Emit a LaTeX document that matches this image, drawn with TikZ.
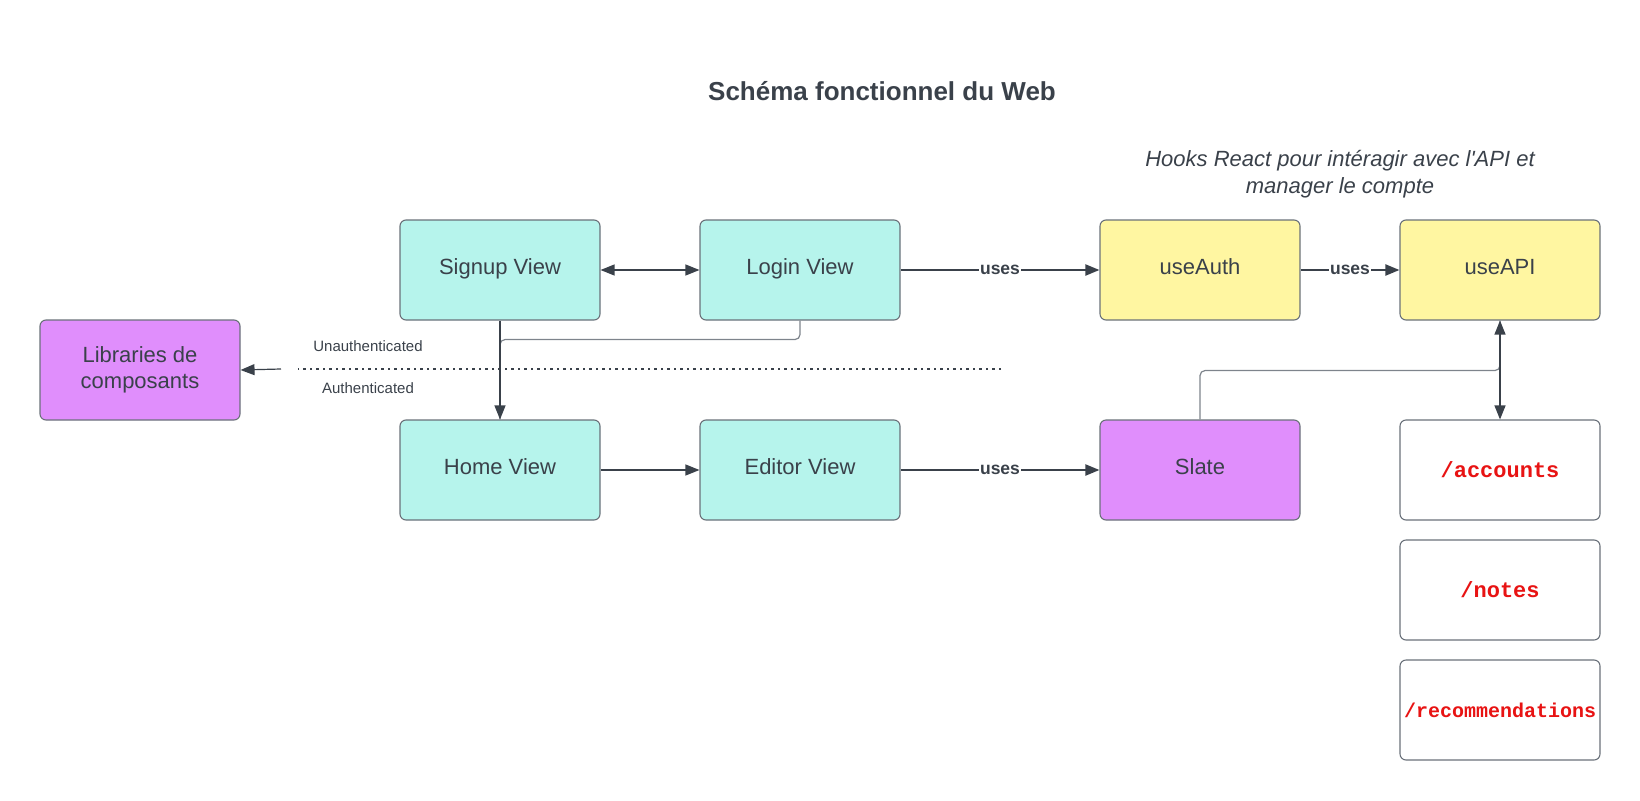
\documentclass[tikz,border=0pt]{standalone}
\usepackage{fontspec}
\setmainfont{Liberation Sans}
\newfontfamily\monofont{Liberation Mono}
\usetikzlibrary{arrows.meta}
\definecolor{tealbox}{HTML}{B6F4EC}
\definecolor{yellowbox}{HTML}{FFF6A1}
\definecolor{purplebox}{HTML}{E08EFC}
\definecolor{textdark}{HTML}{3A414A}
\definecolor{bordergray}{HTML}{6A717A}
\definecolor{linegray}{HTML}{7E848C}
\definecolor{redtext}{HTML}{E81313}
\begin{document}
\begin{tikzpicture}[x=1pt,y=-1pt,
  box/.style={draw=bordergray, line width=1.1pt, rounded corners=6pt,
    minimum width=200pt, minimum height=100pt, inner sep=0pt,
    text=textdark, font=\fontsize{22}{26}\selectfont, align=center},
  oneline/.style={text height=15pt, text depth=6pt},
  tealnode/.style={box, oneline, fill=tealbox},
  yellownode/.style={box, oneline, fill=yellowbox},
  purplenode/.style={box, oneline, fill=purplebox},
  endpoint/.style={box, fill=white, text=redtext, font=\monofont\bfseries\fontsize{22}{26}\selectfont},
  conn/.style={draw=textdark, line width=1.2pt, -{Triangle[length=14pt,width=11pt]}},
  biconn/.style={draw=textdark, line width=1.2pt, {Triangle[length=14pt,width=11pt]}-{Triangle[length=14pt,width=11pt]}},
  useconn/.style={draw=textdark, line width=2pt, -{Triangle[length=14pt,width=11pt]}},
  elbow/.style={draw=linegray, line width=1.2pt, rounded corners=5pt},
  uselabel/.style={fill=white, inner sep=1pt, text=textdark, font=\bfseries\fontsize{17.5}{20}\selectfont},
  smalllabel/.style={text=textdark, font=\fontsize{15}{18}\selectfont},
]
\useasboundingbox (0,0) rectangle (1640,800);

% title and note
\node[text=textdark, font=\bfseries\fontsize{26}{30}\selectfont] (title) at (882,91) {Schéma fonctionnel du Web};
\node[text=textdark, font=\itshape\fontsize{22}{27}\selectfont, align=center] (note) at (1340,174)
  {Hooks React pour intéragir avec l\textquotesingle API et\\manager le compte};

% boxes
\node[tealnode] (signup) at (500,270) {Signup View};
\node[tealnode] (login) at (800,270) {Login View};
\node[yellownode] (useauth) at (1200,270) {useAuth};
\node[yellownode] (useapi) at (1500,270) {useAPI};
\node[box, fill=purplebox] (lib) at (140,370) {Libraries de\\composants};
\node[tealnode] (home) at (500,470) {Home View};
\node[tealnode] (editor) at (800,470) {Editor View};
\node[purplenode] (slate) at (1200,470) {Slate};
\node[endpoint] (accounts) at (1500,470) {/accounts};
\node[endpoint] (notes) at (1500,590) {/notes};
\node[endpoint, font=\monofont\bfseries\fontsize{20}{24}\selectfont] (recom) at (1500,710) {/recommendations};

% auth separator
\coordinate (dotR) at (1001,369);
\coordinate (dotL) at (298,369);
\coordinate (dotA) at (281,369);
\draw[textdark, line width=1.6pt, dash pattern=on 2.5pt off 4pt] (dotR) -- (dotL);
\draw[conn] (dotA) -- (lib.east);
\node[smalllabel] (unauth) at (368,346) {Unauthenticated};
\node[smalllabel] (auth) at (368,388) {Authenticated};

% connectors
\draw[biconn] (signup.east) -- (login.west);
\draw[useconn] (login.east) -- node[uselabel] {uses} (useauth.west);
\draw[useconn] (useauth.east) -- node[uselabel] {uses} (useapi.west);
\draw[elbow] (login.south) -- ++(0,19) -| (home.north);
\draw[conn] (signup.south) -- (home.north);
\draw[conn] (home.east) -- (editor.west);
\draw[useconn] (editor.east) -- node[uselabel] {uses} (slate.west);
\draw[elbow] (slate.north) |- ([yshift=-50pt]useapi.south) -- (useapi.south);
\draw[biconn] (useapi.south) -- (accounts.north);
\end{tikzpicture}
\end{document}
